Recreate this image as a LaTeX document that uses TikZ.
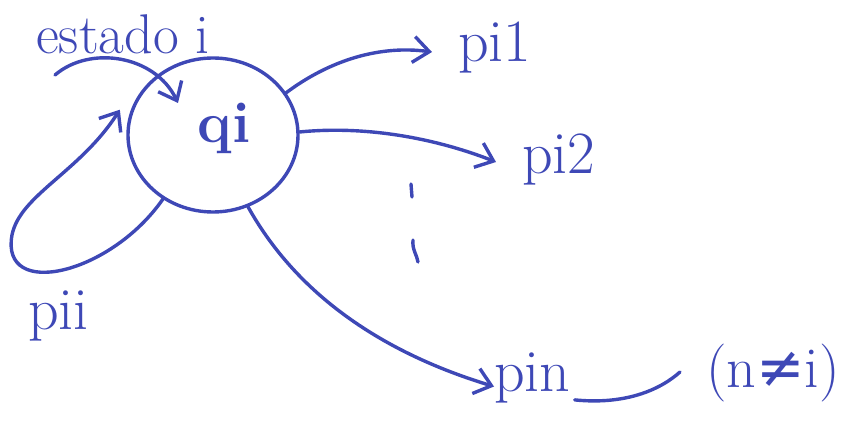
\documentclass[tikz,border=0pt]{standalone}
\usepackage{fontspec}
\newfontfamily\dvsym{DejaVu Sans}
\usetikzlibrary{arrows.meta,shapes.geometric}
\definecolor{ink}{RGB}{62,72,182}
\begin{document}
\begin{tikzpicture}[x=1pt,y=-1pt,
  inkline/.style={draw=ink,line width=3.4pt,line cap=round,line join=round},
  arr/.style={inkline,-{Straight Barb[length=16pt,width=26pt,line width=3.4pt]}},
  lab/.style={text=ink,font=\fontsize{60}{64}\selectfont,inner sep=0pt,anchor=base west}]
\useasboundingbox (0,0) rectangle (860,427);
\node[ellipse,inkline,minimum width=170pt,minimum height=154pt] (q) at (213,135) {};
\node[text=ink,font=\fontsize{58}{62}\selectfont\bfseries,inner sep=0pt] (qi) at (224,128) {qi};
\node[lab,font=\fontsize{56}{60}\selectfont] (est) at (36,54) {estado i};
\node[lab] (p1) at (458,62) {pi1};
\node[lab] (p2) at (522,174) {pi2};
\node[lab] (pn) at (494,392) {pin};
\node[lab] (pii) at (28,330) {pii};
\node[lab,font=\fontsize{58}{62}\selectfont] (ne) at (706,388) {(n{\dvsym ≠}i)};
\coordinate (e0) at (55,75);
\coordinate (e1) at (178,103);
\coordinate (w1) at (680,372);
% estado arrow
\draw[arr] (e0) .. controls (90,45) and (155,55) .. (e1);
% outgoing arrows
\draw[arr] (q.30) .. controls (330,60) and (380,45) .. ([xshift=-26pt,yshift=-4pt]p1.west);
\draw[arr] (q.2) .. controls (370,125) and (440,140) .. ([xshift=-26pt,yshift=-2pt]p2.west);
\draw[arr] (q.-64) .. controls (300,300) and (390,355) .. ([xshift=0pt,yshift=-8pt]pn.west);
% self loop
\draw[arr] (q.-128) .. controls (110,275) and (0,300) .. (12,235) .. controls (20,195) and (80,172) .. ([xshift=-10pt,yshift=3pt]q.165);
% dots
\draw[inkline] (411,184) -- (412,197);
\draw[inkline] (413,240) .. controls (412,250) and (417,255) .. (418,262);
% wave under pin
\draw[inkline] ([xshift=4pt,yshift=4pt]pn.south east) .. controls (625,405) and (660,390) .. (w1);
\end{tikzpicture}
\end{document}
